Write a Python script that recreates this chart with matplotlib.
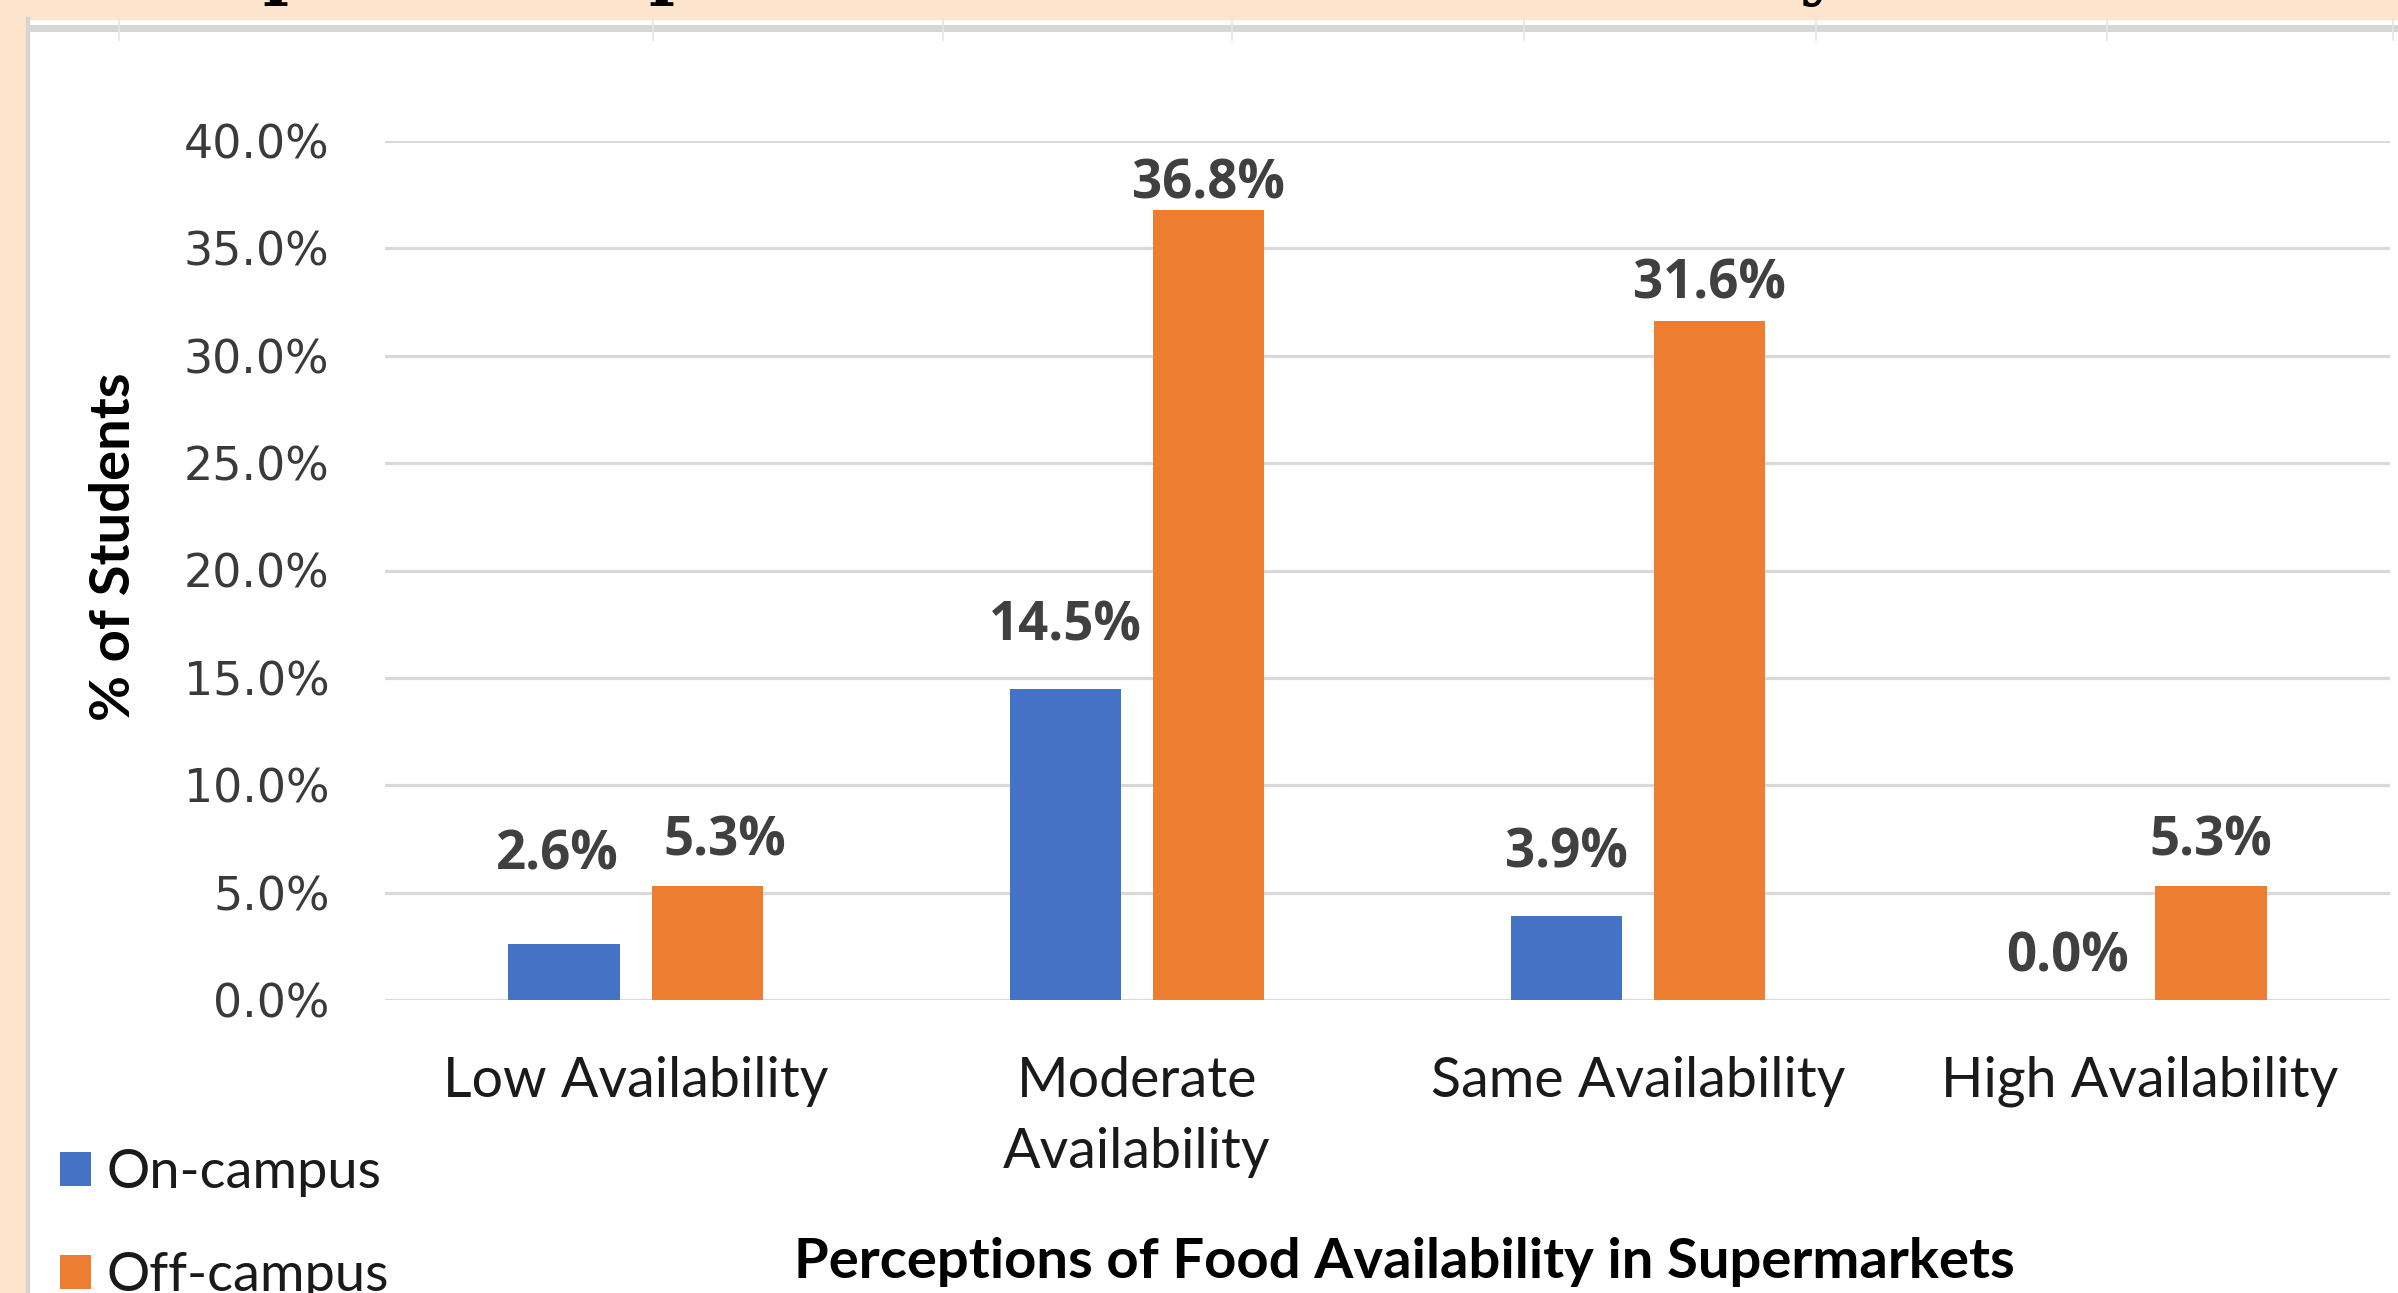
import matplotlib
matplotlib.use("Agg")
import matplotlib.pyplot as plt
from matplotlib.patches import Rectangle
from matplotlib.lines import Line2D
import numpy as np

categories = ["Low Availability", "Moderate\nAvailability", "Same Availability", "High Availability"]
series_names = ["On-campus", "Off-campus"]
on_campus = [2.6, 14.5, 3.9, 0.0]
off_campus = [5.3, 36.8, 31.6, 5.3]
yticks = [0, 5, 10, 15, 20, 25, 30, 35, 40]
ytick_labels = ["0.0%", "5.0%", "10.0%", "15.0%", "20.0%", "25.0%", "30.0%", "35.0%", "40.0%"]
x_title = "Perceptions of Food Availability in Supermarkets"
y_title = "% of Students"

BLUE = "#4472C4"
ORANGE = "#ED7D31"
PEACH = "#FCE4CD"
GRID = "#D9D9D9"

W, H = 2398, 1293
fig = plt.figure(figsize=(W / 100, H / 100), dpi=100)
fig.patch.set_facecolor("white")

# decorative frame (peach border + light grey edges)
fig.patches.append(Rectangle((0, 0), 26 / W, 1, transform=fig.transFigure, color=PEACH, zorder=0))
fig.patches.append(Rectangle((0, 1 - 19 / H), 1, 19 / H, transform=fig.transFigure, color=PEACH, zorder=0))
fig.lines.append(Line2D([28 / W, 28 / W], [0, 1 - 19 / H], transform=fig.transFigure, color="#D4D4D4", lw=3))
fig.lines.append(Line2D([30 / W, 1], [1 - 28 / H, 1 - 28 / H], transform=fig.transFigure, color="#D6D6D6", lw=5))
for xv in [119, 653, 943, 1232, 1524, 1816, 2107, 2393]:
    fig.lines.append(Line2D([xv / W, xv / W], [1 - 40 / H, 1 - 19 / H], transform=fig.transFigure, color="#E6E6E6", lw=1.2))
# cut-off title descenders (the title above is cropped in the original)
for ch, xv in [("p", 262), ("p", 648), ("y", 1800)]:
    fig.text(xv / W, 1 + 8 / H, ch, fontsize=50, fontweight="bold", family="DejaVu Serif",
             va="baseline", ha="left", color="black")

left, right = 385 / W, 2390 / W
bottom, top = (H - 1000) / H, (H - 141) / H
ax = fig.add_axes([left, bottom, right - left, top - bottom])
ax.set_facecolor("white")

x = np.arange(len(categories))
bw = 0.222
off = 0.143
b1 = ax.bar(x - off, on_campus, width=bw, color=BLUE, label=series_names[0], zorder=3)
b2 = ax.bar(x + off, off_campus, width=bw, color=ORANGE, label=series_names[1], zorder=3)

ax.set_xlim(-0.5, 3.5)
ax.set_ylim(0, 40)
ax.set_yticks(yticks)
ax.set_yticklabels(ytick_labels, family="DejaVu Sans", fontsize=33, color="#3a3a3a")
ax.set_xticks(x)
ax.set_xticklabels(categories, family="Lato", fontsize=40, color="#1a1a1a", linespacing=1.5)
ax.tick_params(axis="y", length=0, pad=40)
ax.tick_params(axis="x", length=0, pad=40)
for s in ax.spines.values():
    s.set_visible(False)
ax.yaxis.grid(True, color=GRID, lw=2.3, zorder=0)
ax.set_axisbelow(True)

# data labels (offsets in pixels from bar top, as placed in the original)
label_offsets_on = [(-7, 89), (0, 62), (0, 63), (0, 43)]
label_offsets_off = [(17, 45), (0, 25), (0, 37), (0, 45)]
for bars, vals, offs in [(b1, on_campus, label_offsets_on), (b2, off_campus, label_offsets_off)]:
    for rect, v, (dx, dy) in zip(bars, vals, offs):
        cx = rect.get_x() + rect.get_width() / 2
        ax.annotate(f"{v:.1f}%", xy=(cx, v), xytext=(dx * 0.72, dy * 0.72), textcoords="offset points",
                    ha="center", va="center", family="Open Sans", fontweight="bold",
                    fontsize=38, color="#404040", annotation_clip=False)

fig.text(1404 / W, 1 - 1262 / H, x_title, family="Lato", fontweight="bold", fontsize=40.5,
         ha="center", va="center", color="black")
fig.text(114 / W, 1 - 547 / H, y_title, family="Lato", fontweight="bold", fontsize=40.5,
         rotation=90, ha="center", va="center", color="black")

leg = fig.legend(handles=[b1, b2], labels=series_names, loc="upper left",
                 bbox_to_anchor=(60 / W, 1 - 1148 / H), frameon=False, prop={"family": "Lato", "size": 39},
                 handlelength=0.57, handleheight=0.57, handletextpad=0.28, labelspacing=1.0,
                 borderpad=0, borderaxespad=0)
for t in leg.get_texts():
    t.set_color("#1a1a1a")

fig.savefig("out.png", dpi=100)
